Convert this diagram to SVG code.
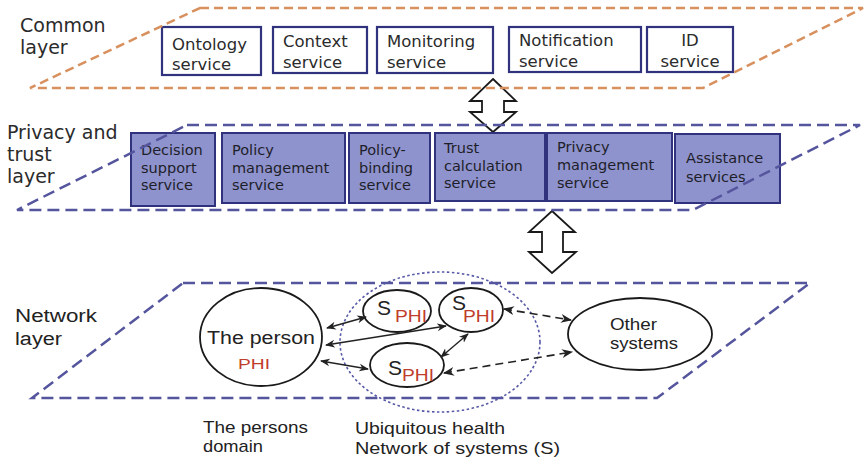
<svg xmlns="http://www.w3.org/2000/svg" width="865" height="461" viewBox="0 0 865 461">
<style>
.bg{fill:#ffffff}
.orange{fill:none;stroke:#D8905E;stroke-width:2.5;stroke-dasharray:9 5}
.navy{fill:none;stroke:#55559E;stroke-width:2.5;stroke-dasharray:12 6}
.cbox{fill:#ffffff;stroke:#30327E;stroke-width:2.2}
.pbox{fill:#8F93CD;stroke:#30327E;stroke-width:2}
.tu{font-family:"DejaVu Sans",Verdana,sans-serif;fill:#2b2b2b}
.lay{font-size:19px}
.svc{font-size:16.5px}
.psvc{font-size:14.5px;fill:#1e1e2a}
.ta{font-family:"Liberation Sans",Arial,sans-serif;fill:#222}
.red{fill:#BF3D2B}
.ell{fill:#ffffff;stroke:#1a1a1a;stroke-width:1.8}
.dot{fill:none;stroke:#5558A6;stroke-width:1.6;stroke-dasharray:2.5 2.5}
.big{fill:#ffffff;stroke:#1a1a1a;stroke-width:1.8;stroke-linejoin:miter}
.ln{fill:none;stroke:#222;stroke-width:1.4}
.dl{fill:none;stroke:#222;stroke-width:1.6;stroke-dasharray:8 5}
</style>
<defs>
<marker id="ah" viewBox="0 0 10 10" refX="9" refY="5" markerWidth="7" markerHeight="7" orient="auto-start-reverse">
<path d="M0,1 L10,5 L0,9 L3,5 z" fill="#222"/>
</marker>
</defs>
<rect class="bg" x="0" y="0" width="865" height="461"/>

<!-- big transfer arrows (under layer lines) -->
<g id="transfer-arrows">
<polygon class="big" points="493,79 516,101 504,101 504,112 516,112 493,132 470,112 482,112 482,101 470,101"/>
<polygon class="big" points="552,211 575,232 563,232 563,252 576,252 552,273 529,252 542,252 542,232 529,232"/>
</g>

<!-- Common layer -->
<g id="common-layer">
<text class="tu lay" x="20" y="32">Common</text>
<text class="tu lay" x="20" y="54">layer</text>
<g id="ontology"><rect class="cbox" x="162" y="27" width="99" height="48"/><text class="tu svc" x="172" y="50">Ontology</text><text class="tu svc" x="172" y="70">service</text></g>
<g id="context"><rect class="cbox" x="273" y="27" width="94" height="46"/><text class="tu svc" x="283" y="47">Context</text><text class="tu svc" x="283" y="68">service</text></g>
<g id="monitoring"><rect class="cbox" x="377" y="27" width="116" height="46"/><text class="tu svc" x="387" y="47">Monitoring</text><text class="tu svc" x="387" y="68">service</text></g>
<g id="notification"><rect class="cbox" x="509" y="27" width="132" height="45"/><text class="tu svc" x="519" y="46">Notification</text><text class="tu svc" x="519" y="67">service</text></g>
<g id="id-service"><rect class="cbox" x="647" y="27" width="86" height="45"/><text class="tu svc" x="690" y="46" text-anchor="middle">ID</text><text class="tu svc" x="690" y="67" text-anchor="middle">service</text></g>
<polygon class="orange" points="200,8 863,8 703,88 30,88"/>
</g>

<!-- Privacy and trust layer -->
<g id="privacy-layer">
<text class="tu lay" x="7" y="139">Privacy and</text>
<text class="tu lay" x="7" y="161">trust</text>
<text class="tu lay" x="7" y="183">layer</text>
<g id="decision"><rect class="pbox" x="131" y="133" width="84" height="73"/><text class="tu psvc" x="141" y="155">Decision</text><text class="tu psvc" x="141" y="173">support</text><text class="tu psvc" x="141" y="190">service</text></g>
<g id="policy-mgmt"><rect class="pbox" x="222" y="133" width="123" height="70"/><text class="tu psvc" x="232" y="155">Policy</text><text class="tu psvc" x="232" y="173">management</text><text class="tu psvc" x="232" y="190">service</text></g>
<g id="policy-binding"><rect class="pbox" x="349" y="133" width="81" height="70"/><text class="tu psvc" x="359" y="155">Policy-</text><text class="tu psvc" x="359" y="173">binding</text><text class="tu psvc" x="359" y="190">service</text></g>
<g id="trust"><rect class="pbox" x="435" y="133" width="110" height="68"/><text class="tu psvc" x="444" y="153">Trust</text><text class="tu psvc" x="444" y="171">calculation</text><text class="tu psvc" x="444" y="188">service</text></g>
<g id="privacy-mgmt"><rect class="pbox" x="547" y="133" width="125" height="68"/><text class="tu psvc" x="557" y="152">Privacy</text><text class="tu psvc" x="557" y="170">management</text><text class="tu psvc" x="557" y="188">service</text></g>
<g id="assistance"><rect class="pbox" x="675" y="134" width="105" height="69"/><text class="tu psvc" x="686" y="163">Assistance</text><text class="tu psvc" x="686" y="182">services</text></g>
<polygon class="navy" points="187,125 860,125 693,210 17,210"/>
</g>

<!-- Network layer -->
<g id="network-layer">
<polygon class="navy" points="183,283 810,283 657,398 32,398"/>
<text class="ta" font-size="18" x="15" y="322" textLength="82" lengthAdjust="spacingAndGlyphs">Network</text>
<text class="ta" font-size="18" x="15" y="345" textLength="47" lengthAdjust="spacingAndGlyphs">layer</text>
</g>

<g id="ubiquitous-network">
<ellipse class="dot" cx="440" cy="342" rx="100" ry="70"/>
</g>

<g id="the-person">
<ellipse class="ell" cx="261" cy="337" rx="61" ry="49"/>
<text class="ta" font-size="18" x="207" y="344" textLength="108" lengthAdjust="spacingAndGlyphs">The person</text>
<text class="ta red" font-size="15" x="238" y="369" textLength="32" lengthAdjust="spacingAndGlyphs">PHI</text>
</g>

<g id="s-phi-1">
<ellipse class="ell" cx="397" cy="311" rx="34" ry="21"/>
<text class="ta" font-size="21" x="377" y="315">S</text>
<text class="ta red" font-size="16" x="395" y="322" textLength="32" lengthAdjust="spacingAndGlyphs">PHI</text>
</g>
<g id="s-phi-2">
<ellipse class="ell" cx="471" cy="310" rx="32" ry="22"/>
<text class="ta" font-size="21" x="452" y="310">S</text>
<text class="ta red" font-size="16" x="463" y="322" textLength="32" lengthAdjust="spacingAndGlyphs">PHI</text>
</g>
<g id="s-phi-3">
<ellipse class="ell" cx="407" cy="365" rx="37" ry="22"/>
<text class="ta" font-size="21" x="388" y="375">S</text>
<text class="ta red" font-size="16" x="402" y="381" textLength="32" lengthAdjust="spacingAndGlyphs">PHI</text>
</g>

<g id="other-systems">
<ellipse class="ell" cx="640" cy="334" rx="72" ry="36"/>
<text class="ta" font-size="17" x="610" y="330" textLength="47" lengthAdjust="spacingAndGlyphs">Other</text>
<text class="ta" font-size="17" x="610" y="349" textLength="68" lengthAdjust="spacingAndGlyphs">systems</text>
</g>

<g id="connectors">
<line class="ln" x1="327" y1="328" x2="366" y2="317" marker-start="url(#ah)" marker-end="url(#ah)"/>
<line class="ln" x1="326" y1="345" x2="446" y2="326" marker-start="url(#ah)" marker-end="url(#ah)"/>
<line class="ln" x1="321" y1="361" x2="368" y2="369" marker-start="url(#ah)" marker-end="url(#ah)"/>
<line class="ln" x1="468" y1="334" x2="441" y2="357" marker-start="url(#ah)" marker-end="url(#ah)"/>
<line class="dl" x1="504" y1="309" x2="571" y2="320" marker-start="url(#ah)" marker-end="url(#ah)"/>
<line class="dl" x1="444" y1="373" x2="572" y2="352" marker-start="url(#ah)" marker-end="url(#ah)"/>
</g>

<g id="labels">
<text class="ta" font-size="17" x="203" y="433" textLength="105" lengthAdjust="spacingAndGlyphs">The persons</text>
<text class="ta" font-size="17" x="203" y="452" textLength="60" lengthAdjust="spacingAndGlyphs">domain</text>
<text class="ta" font-size="17" x="355" y="434" textLength="150" lengthAdjust="spacingAndGlyphs">Ubiquitous health</text>
<text class="ta" font-size="17" x="355" y="454" textLength="205" lengthAdjust="spacingAndGlyphs">Network of systems (S)</text>
</g>
</svg>
